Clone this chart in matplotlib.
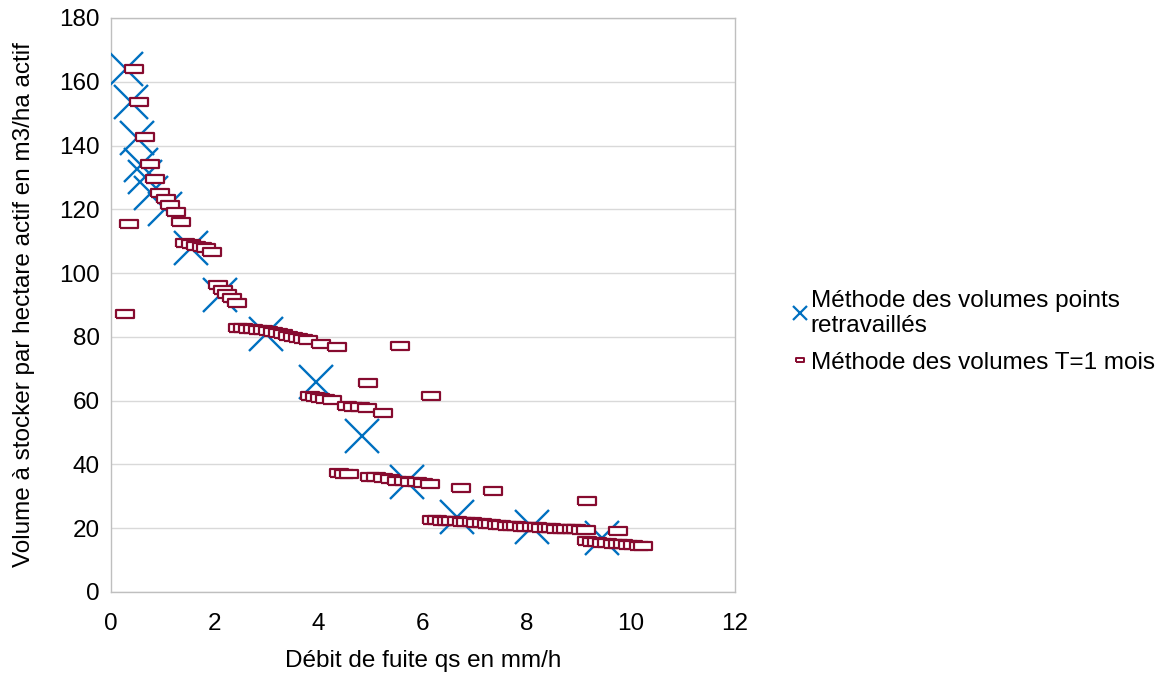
import numpy as np
import matplotlib.pyplot as plt
from matplotlib.lines import Line2D

plt.rcParams['font.family'] = ['Liberation Sans', 'DejaVu Sans']

# Méthode des volumes points retravaillés (crosses)
qs_points = [0.29, 0.39, 0.50, 0.59, 0.66, 0.78, 1.05, 1.54, 2.11, 2.99,
             3.94, 4.84, 5.70, 6.65, 8.09, 9.44]
vol_points = [164.0, 153.5, 142.5, 134.0, 130.0, 125.0, 120.0, 108.0, 93.0, 81.0,
              66.0, 49.0, 34.5, 23.5, 20.5, 16.8]

# Méthode des volumes T=1 mois (rectangles)
qs_month = [0.45, 0.55, 0.66, 0.75, 0.85, 0.95, 1.06, 1.15, 1.25, 1.35, 0.35, 0.27,
            1.43, 1.54, 1.65, 1.75, 1.84, 1.95,
            2.06, 2.15, 2.23, 2.33, 2.42,
            2.45, 2.54, 2.64, 2.73, 2.83, 2.92, 3.02, 3.12, 3.22, 3.31, 3.41, 3.50,
            3.60, 3.69, 3.79,
            4.05, 4.36, 5.56,
            3.83, 3.92, 4.02, 4.12, 4.25,
            4.95, 6.15,
            4.54, 4.66, 4.79, 4.92, 5.24,
            4.38, 4.48, 4.58,
            4.98, 5.11, 5.24, 5.37, 5.50, 5.63, 5.75, 5.88, 6.01, 6.14,
            6.74, 7.34, 9.16, 9.75,
            6.17, 6.27, 6.36, 6.46, 6.55, 6.65, 6.75, 6.84, 6.94, 7.03, 7.13, 7.23,
            7.32, 7.42, 7.51, 7.61, 7.71, 7.80, 7.90, 7.99, 8.09, 8.19, 8.28, 8.38,
            8.47, 8.57, 8.67, 8.76, 8.86, 8.95, 9.05, 9.14,
            9.15, 9.25, 9.35, 9.45, 9.55, 9.65, 9.75, 9.85, 9.95, 10.05, 10.15, 10.24]
vol_month = [163.9, 153.5, 142.6, 134.2, 129.6, 125.2, 123.1, 121.2, 119.1, 116.1, 115.4, 87.3,
             109.3, 109.0, 108.6, 108.2, 107.8, 106.5,
             96.2, 94.7, 93.4, 92.1, 90.5,
             82.9, 82.8, 82.6, 82.4, 82.2, 82.0, 81.7, 81.4, 81.1, 80.8, 80.4, 80.1,
             79.7, 79.4, 79.1,
             77.7, 76.9, 77.2,
             61.6, 61.2, 60.7, 60.4, 60.2,
             65.6, 61.5,
             58.4, 58.1, 57.9, 57.7, 56.0,
             37.2, 37.0, 36.9,
             36.2, 35.9, 35.6, 35.3, 34.9, 34.7, 34.6, 34.4, 34.1, 34.0,
             32.6, 31.6, 28.5, 19.0,
             22.6, 22.5, 22.4, 22.3, 22.2, 22.1, 22.0, 21.9, 21.8, 21.7, 21.6, 21.4,
             21.3, 21.0, 20.9, 20.8, 20.7, 20.6, 20.5, 20.4, 20.4, 20.3, 20.2, 20.1,
             20.0, 19.9, 19.9, 19.8, 19.7, 19.6, 19.5, 19.4,
             15.9, 15.7, 15.6, 15.4, 15.3, 15.1, 15.0, 14.9, 14.7, 14.6, 14.4, 14.3]

label_points = "Méthode des volumes points\nretravaillés"
label_month = "Méthode des volumes T=1 mois"

blue = '#0070C0'
red = '#860B2F'
grey = '#BFBFBF'

rect = [(-1, -0.45), (1, -0.45), (1, 0.45), (-1, 0.45), (-1, -0.45)]

fig = plt.figure(figsize=(11.66, 6.73), dpi=100)
ax = fig.add_axes([0.0949, 0.1204, 0.5354, 0.8529])

ax.plot(qs_points, vol_points, linestyle='none', marker='x', ms=25, mew=1.7,
        color=blue, zorder=3)
ax.plot(qs_month, vol_month, linestyle='none', marker=rect, ms=13, mew=1.6,
        mec=red, mfc='white', zorder=4)

ax.set_xlim(0, 12)
ax.set_ylim(0, 180)
ax.set_xticks(np.arange(0, 13, 2))
ax.set_yticks(np.arange(0, 181, 20))
ax.yaxis.grid(True, color='#D9D9D9', lw=1)
ax.set_axisbelow(True)
ax.tick_params(length=0, labelsize=17.5)
ax.tick_params(axis='x', pad=15)
ax.tick_params(axis='y', pad=8)
for s in ax.spines.values():
    s.set_color(grey)
    s.set_linewidth(1)

ax.set_xlabel("Débit de fuite qs en mm/h", fontsize=17.5, labelpad=11)
ax.set_ylabel("Volume à stocker par hectare actif en m3/ha actif", fontsize=17.5, labelpad=17)

handles = [
    Line2D([], [], linestyle='none', marker='x', ms=10, mew=1.6, color=blue),
    Line2D([], [], linestyle='none', marker=rect, ms=6, mew=1.4, mec=red, mfc='white'),
]
leg = fig.legend(handles, [label_points, label_month], loc='center left',
                 bbox_to_anchor=(0.661, 0.507), frameon=False, fontsize=17.5,
                 handlelength=0.6, handletextpad=0.15, labelspacing=0.6)
for t in leg.get_texts():
    t.set_linespacing(1.2)

fig.savefig('out.png', dpi=100)
